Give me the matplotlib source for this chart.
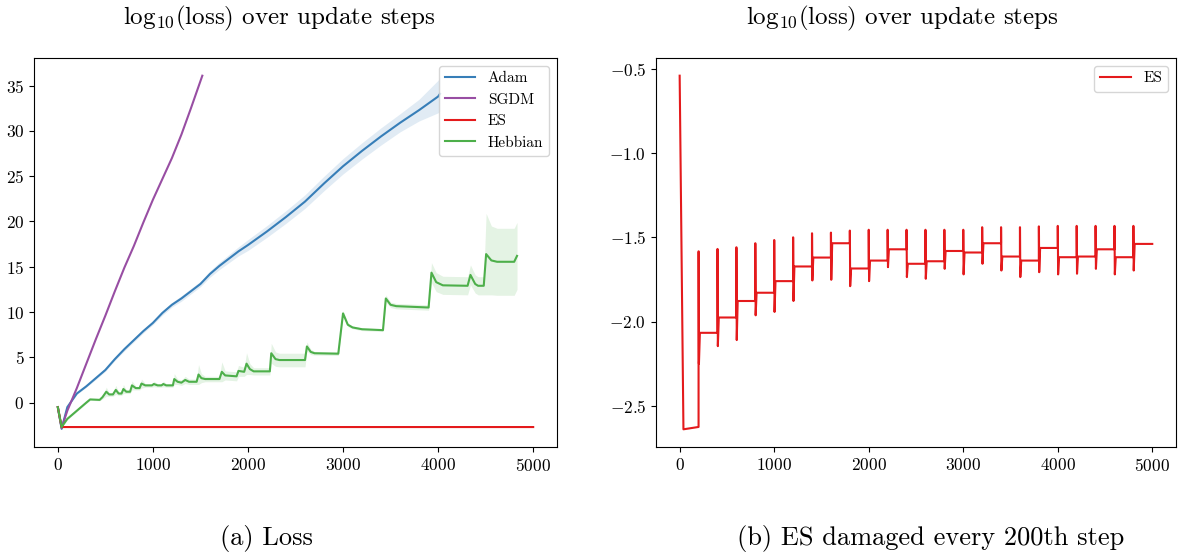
import numpy as np
import matplotlib
matplotlib.use("Agg")
import matplotlib.pyplot as plt

plt.rcParams['font.family'] = 'serif'
plt.rcParams['font.serif'] = ['cmr10', 'DejaVu Serif']
plt.rcParams['mathtext.fontset'] = 'cm'
plt.rcParams['axes.formatter.use_mathtext'] = True
plt.rcParams['axes.unicode_minus'] = True

# ---------------- data: left panel ----------------
adam_x = [0, 40, 100, 200, 300, 400, 500, 600, 700, 800, 900, 1000, 1100, 1200, 1300, 1400,
          1500, 1600, 1700, 1800, 1900, 2000, 2200, 2400, 2600, 2800, 3000, 3200, 3400,
          3600, 3800, 4000, 4020]
adam_y = [-0.5, -2.9, -0.5, 1.0, 1.8, 2.7, 3.6, 4.8, 5.9, 6.9, 7.9, 8.8, 9.9, 10.8, 11.5, 12.3,
          13.1, 14.2, 15.1, 15.9, 16.7, 17.4, 18.9, 20.5, 22.2, 24.2, 26.1, 27.8, 29.4,
          30.9, 32.3, 33.8, 34.1]
adam_sd = [0.05, 0.05, 0.1, 0.1, 0.1, 0.15, 0.15, 0.15, 0.2, 0.2, 0.2, 0.2, 0.25, 0.25, 0.3, 0.3,
           0.3, 0.35, 0.4, 0.45, 0.5, 0.6, 0.65, 0.7, 0.75, 0.8, 0.85, 0.9, 0.95,
           1.0, 1.2, 1.8, 1.9]

sgdm_x = [0, 40, 100, 200, 300, 400, 500, 600, 700, 800, 900, 1000, 1100, 1200, 1300, 1400, 1520]
sgdm_y = [-0.5, -2.8, -0.9, 1.6, 4.3, 7.0, 9.6, 12.3, 14.9, 17.3, 19.9, 22.4, 24.7, 27.0, 29.6, 32.5, 36.1]

es_x = [0, 40, 5000]
es_y = [-0.5, -2.7, -2.7]

hebb_x = [0, 40, 100, 200, 300, 340, 440, 470, 510, 540, 580, 610, 640, 670, 690, 720, 760,
          780, 820, 860, 880, 920, 990, 1010, 1050, 1090, 1110, 1140, 1210, 1225, 1260, 1300,
          1340, 1380, 1460, 1480, 1510, 1550, 1700, 1725, 1760, 1880, 1900, 1960, 1985, 2020,
          2060, 2230, 2245, 2290, 2330, 2600, 2620, 2660, 2700, 2950, 3000, 3050, 3100, 3200,
          3420, 3450, 3500, 3560, 3900, 3930, 3980, 4050, 4310, 4340, 4390, 4420, 4480, 4505,
          4560, 4620, 4800, 4830]
hebb_y = [-0.5, -2.7, -1.8, -0.9, 0.0, 0.35, 0.3, 0.6, 1.2, 0.9, 0.9, 1.4, 1.0, 1.0, 1.5, 1.2, 1.2,
          1.9, 1.6, 1.6, 2.1, 1.9, 1.9, 2.05, 1.9, 1.9, 2.05, 1.9, 1.9, 2.6, 2.3, 2.2,
          2.5, 2.3, 2.3, 3.1, 2.7, 2.6, 2.6, 3.4, 3.0, 2.9, 3.5, 3.4, 4.3, 3.7,
          3.45, 3.45, 5.45, 4.8, 4.7, 4.7, 6.2, 5.6, 5.45, 5.4, 9.85, 8.6, 8.3, 8.1,
          8.0, 11.5, 10.8, 10.65, 10.5, 14.35, 13.3, 12.95, 12.9, 14.1, 13.1, 12.9, 12.9, 16.4,
          15.7, 15.55, 15.55, 16.2]
hebb_sd = [0.05, 0.05, 0.1, 0.1, 0.1, 0.1, 0.1, 0.2, 0.5, 0.2, 0.2, 0.5, 0.2, 0.2, 0.5, 0.2, 0.2,
           0.5, 0.2, 0.2, 0.5, 0.2, 0.2, 0.3, 0.2, 0.2, 0.3, 0.2, 0.2, 0.6, 0.3, 0.3,
           0.4, 0.3, 0.3, 1.1, 0.5, 0.3, 0.3, 1.1, 0.5, 0.5, 0.6, 0.5, 1.2, 0.6,
           0.4, 0.4, 1.1, 0.8, 0.75, 0.75, 0.5, 0.3, 0.2, 0.2, 0.3, 0.2, 0.15, 0.15,
           0.15, 0.4, 0.3, 0.3, 0.3, 1.1, 1.05, 1.0, 1.0, 1.1, 1.0, 1.0, 1.0, 4.5,
           3.8, 3.7, 3.7, 3.7]

# ---------------- data: right panel (ES damaged every 200th step) ----------------
init_x = [0, 40, 200]
init_y = [-0.54, -2.64, -2.626]
damage_steps = [200, 400, 600, 800, 1000, 1200, 1400, 1600, 1800, 2000, 2200, 2400,
                2600, 2800, 3000, 3200, 3400, 3600, 3800, 4000, 4200, 4400, 4600, 4800]
level_after = [-2.067, -1.976, -1.878, -1.829, -1.76, -1.673, -1.62, -1.535, -1.685, -1.638,
               -1.571, -1.657, -1.642, -1.581, -1.59, -1.535, -1.614, -1.638, -1.563, -1.618,
               -1.614, -1.571, -1.618, -1.539]
spike_top = [-1.583, -1.569, -1.559, -1.535, -1.516, -1.5, -1.476, -1.472, -1.46, -1.455,
             -1.455, -1.455, -1.455, -1.455, -1.455, -1.44, -1.44, -1.44, -1.435, -1.432,
             -1.432, -1.432, -1.432, -1.432]
spike_bottom = [-2.25, -2.146, -2.11, -1.963, -1.943, -1.878, -1.756, -1.752, -1.79, -1.76,
                -1.677, -1.736, -1.746, -1.687, -1.72, -1.657, -1.697, -1.736, -1.707, -1.72,
                -1.716, -1.687, -1.72, -1.697]
final_step = 5000

C_ADAM = '#377eb8'
C_SGDM = '#984ea3'
C_ES = '#e41a1c'
C_HEBB = '#4daf4a'

fig = plt.figure(figsize=(11.78, 5.53), dpi=100)
ax1 = fig.add_axes([0.0289, 0.1917, 0.4439, 0.7034])
ax2 = fig.add_axes([0.5569, 0.1917, 0.4413, 0.7034])

ax = ax1
ax.plot(adam_x, adam_y, color=C_ADAM, lw=1.5, label='Adam')
ax.fill_between(adam_x, np.array(adam_y) - np.array(adam_sd), np.array(adam_y) + np.array(adam_sd),
                color=C_ADAM, alpha=0.15, lw=0)
ax.plot(sgdm_x, sgdm_y, color=C_SGDM, lw=1.5, label='SGDM')
ax.plot(es_x, es_y, color=C_ES, lw=1.5, label='ES')
ax.plot(hebb_x, hebb_y, color=C_HEBB, lw=1.5, label='Hebbian')
ax.fill_between(hebb_x, np.array(hebb_y) - np.array(hebb_sd), np.array(hebb_y) + np.array(hebb_sd),
                color=C_HEBB, alpha=0.15, lw=0)
ax.set_xticks([0, 1000, 2000, 3000, 4000, 5000])
ax.set_yticks([0, 5, 10, 15, 20, 25, 30, 35])
ax.legend(loc='upper right', fontsize=11)

# build right-panel series from damage events
rx = list(init_x)
ry = list(init_y)
for s, lv, tp, bt in zip(damage_steps, level_after, spike_top, spike_bottom):
    rx += [s, s + 1, s + 4, s + 14]
    ry += [tp, tp, bt, lv]
    nxt = s + 200 if s + 200 <= final_step else final_step
    rx.append(nxt)
    ry.append(lv)

ax = ax2
ax.plot(rx, ry, color=C_ES, lw=1.5, label='ES')
ax.set_xticks([0, 1000, 2000, 3000, 4000, 5000])
ax.set_yticks([-2.5, -2.0, -1.5, -1.0, -0.5])
ax.legend(loc='upper right', fontsize=11)

for ax in (ax1, ax2):
    ax.tick_params(labelsize=12.5)

title = r'$\mathrm{log}_{10}(\mathrm{loss})$ over update steps'
fig.text(279 / 1178, 1 - 18 / 553, title, ha='center', va='center', fontsize=18)
fig.text(902 / 1178, 1 - 18 / 553, title, ha='center', va='center', fontsize=18)
fig.text(266 / 1178, 1 - 538 / 553, '(a) Loss', ha='center', va='center', fontsize=19)
fig.text(931 / 1178, 1 - 538 / 553, '(b) ES damaged every 200th step', ha='center', va='center', fontsize=19)

fig.savefig('out.png', dpi=100)
